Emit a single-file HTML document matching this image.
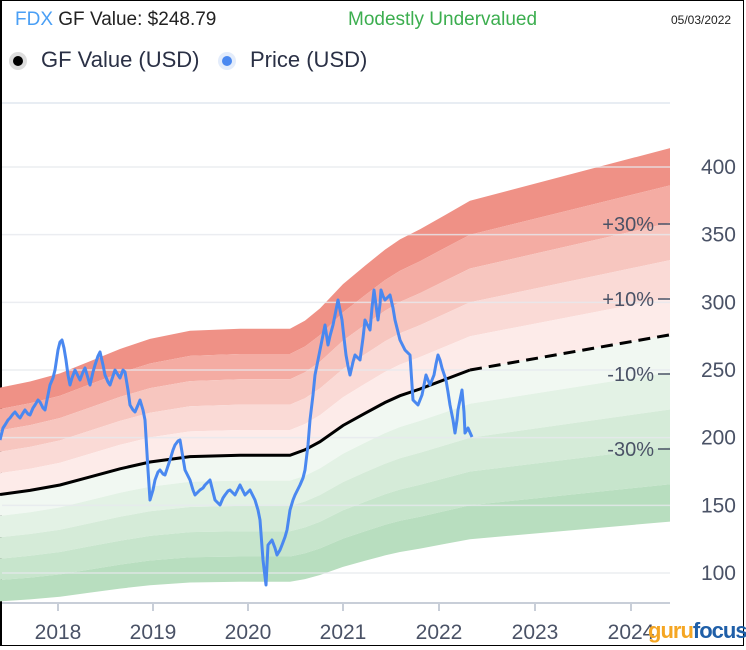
<!DOCTYPE html>
<html><head><meta charset="utf-8"><style>
html,body{margin:0;padding:0;background:#fff}
body{width:746px;height:650px;position:relative;overflow:hidden;font-family:"Liberation Sans",sans-serif}
.t{position:absolute;white-space:nowrap}
</style></head><body>
<div style="position:absolute;left:0;top:0;width:741px;height:644px;border:1px solid #000;border-left:2px solid #000;border-top:1px solid #000;box-sizing:content-box"></div>
<div class="t" style="left:15px;top:9px;font-size:19px;color:#222"><span style="color:#4a9ff5">FDX</span> GF Value: $248.79</div>
<div class="t" style="left:348px;top:9px;font-size:19px;color:#3cae4f">Modestly Undervalued</div>
<div class="t" style="left:671px;top:13px;font-size:12px;color:#222">05/03/2022</div>
<div style="position:absolute;left:9px;top:52px;width:18px;height:18px;border-radius:50%;background:#ddd"></div>
<div style="position:absolute;left:13px;top:56px;width:10px;height:10px;border-radius:50%;background:#000"></div>
<div class="t" style="left:41px;top:47px;font-size:22px;color:#2a3045">GF Value (USD)</div>
<div style="position:absolute;left:218px;top:52px;width:18px;height:18px;border-radius:50%;background:#e3ecfb"></div>
<div style="position:absolute;left:222px;top:56px;width:10px;height:10px;border-radius:50%;background:#4a88f0"></div>
<div class="t" style="left:250px;top:47px;font-size:22px;color:#2a3045">Price (USD)</div>
<svg id="s" width="746" height="650" style="position:absolute;left:0;top:0">
<line x1="2" y1="103" x2="670" y2="103" stroke="#e8edf3" stroke-width="2"/>
<g id="bands"></g><g id="grid"></g>
</svg>
<script>
const s=document.getElementById('s'),NS='http://www.w3.org/2000/svg';
function el(t,a,p){const e=document.createElementNS(NS,t);for(const k in a)e.setAttribute(k,a[k]);(p||s).appendChild(e);return e;}
const Y=v=>573-(v-100)*1.3533;
const gf=[[0,158],[30,161],[60,165],[90,171],[120,177],[150,182],[190,186],[240,187],[290,187],[305,191],[320,197],[343,209],[365,218],[385,226],[400,231],[420,236],[445,243],[470,250],[670,276]];
const F=[1.5,1.4,1.3,1.2,1.1,1.0,0.9,0.8,0.7,0.6,0.5];
const C=['#ef9186','#f4aca3','#f7c6bf','#fadad6','#fdebe9','#f1f8f2','#e3f2e5','#d5ebd8','#c7e5cc','#b8debf'];
const bg=document.getElementById('bands');
for(let i=0;i<10;i++){let p=gf.map(([x,v])=>x+','+Y(v*F[i]).toFixed(1));let q=gf.slice().reverse().map(([x,v])=>x+','+Y(v*F[i+1]).toFixed(1));el('polygon',{points:p.concat(q).join(' '),fill:C[i]},bg);}
const g=document.getElementById('grid');
[100,150,200,250,300,350,400].forEach(v=>{el('line',{x1:2,x2:670,y1:Y(v),y2:Y(v),stroke:'#e6e9ee','stroke-width':1.5,'stroke-opacity':0.8},g);const t=el('text',{x:736,y:Y(v)+7,'text-anchor':'end','font-size':21,fill:'#4a5266'},g);t.textContent=v;});
el('line',{x1:2,x2:670,y1:603,y2:603,stroke:'#c8ced8','stroke-width':2});
[[58,'2018'],[153,'2019'],[248,'2020'],[343,'2021'],[439,'2022'],[535,'2023'],[631,'2024']].forEach(([x,l])=>{el('line',{x1:x,x2:x,y1:603,y2:611,stroke:'#c8ced8','stroke-width':2});const t=el('text',{x:x,y:639,'text-anchor':'middle','font-size':21,fill:'#4a5266'});t.textContent=l;});
[['+30%',224],['+10%',299],['-10%',374],['-30%',449]].forEach(([l,y])=>{const t=el('text',{x:654,y:y+7,'text-anchor':'end','font-size':20,fill:'#4a5266'});t.textContent=l;el('line',{x1:658,x2:670,y1:y,y2:y,stroke:'#4a5266','stroke-width':1.5});});
const n=gf.length;
el('polyline',{points:gf.slice(0,n-1).map(([x,v])=>x+','+Y(v).toFixed(1)).join(' '),fill:'none',stroke:'#000','stroke-width':3});
el('polyline',{points:gf.slice(n-2).map(([x,v])=>x+','+Y(v).toFixed(1)).join(' '),fill:'none',stroke:'#000','stroke-width':3,'stroke-dasharray':'12,7'});
const pr=[[0,440],[3,428],[5,425],[8,420],[10,418],[13,414],[15,412],[18,416],[20,418],[23,413],[25,410],[28,414],[30,415],[33,408],[35,405],[38,400],[40,402],[43,408],[45,410],[48,395],[50,385],[53,378],[55,370],[58,350],[60,342],[62,340],[64,348],[66,360],[68,375],[70,385],[72,378],[75,370],[78,376],[80,380],[83,372],[85,368],[88,378],[90,385],[93,372],[95,365],[98,356],[100,352],[103,365],[105,375],[108,382],[110,385],[113,376],[115,370],[118,375],[120,378],[123,370],[125,372],[128,390],[130,405],[133,410],[135,412],[138,405],[140,400],[143,410],[145,420],[148,470],[150,500],[153,490],[155,480],[158,472],[160,470],[163,474],[165,475],[168,466],[170,460],[173,450],[175,445],[178,441],[180,440],[183,458],[185,470],[188,476],[190,480],[193,490],[195,495],[198,492],[200,490],[203,488],[205,485],[208,482],[210,480],[213,492],[215,500],[218,503],[220,505],[223,498],[225,495],[228,491],[230,490],[233,493],[235,495],[238,489],[240,485],[243,491],[245,495],[248,492],[250,490],[253,496],[255,500],[258,510],[260,520],[263,560],[266,585],[268,545],[272,540],[275,548],[277,555],[280,550],[282,545],[285,537],[287,530],[290,510],[293,500],[295,495],[298,489],[300,485],[303,478],[305,470],[308,445],[310,420],[313,395],[315,375],[318,360],[320,350],[323,335],[325,325],[328,345],[330,336],[333,325],[336,310],[338,300],[340,310],[342,320],[344,338],[346,355],[348,366],[350,375],[353,362],[355,355],[358,358],[360,360],[363,338],[365,320],[368,326],[370,330],[372,308],[374,290],[376,305],[378,320],[380,304],[381,290],[383,296],[385,300],[388,297],[390,295],[393,308],[395,320],[398,332],[400,340],[403,346],[405,350],[408,353],[410,355],[413,400],[416,403],[418,405],[420,400],[422,395],[424,385],[426,375],[428,380],[430,385],[432,380],[434,375],[436,364],[438,355],[440,360],[442,368],[444,374],[446,380],[448,392],[450,405],[453,420],[455,433],[457,420],[458,410],[460,400],[462,390],[464,412],[465,433],[468,428],[472,437]];
el('polyline',{points:pr.map(p=>p.join(',')).join(' '),fill:'none',stroke:'#4a88f0','stroke-width':3,'stroke-linejoin':'round'});
</script>
<div class="t" style="left:648px;top:618px;font-size:22px;font-weight:bold;color:#f5a623;letter-spacing:-1px;line-height:26px">guru<span style="color:#1f5fa8">focus</span></div>
</body></html>
